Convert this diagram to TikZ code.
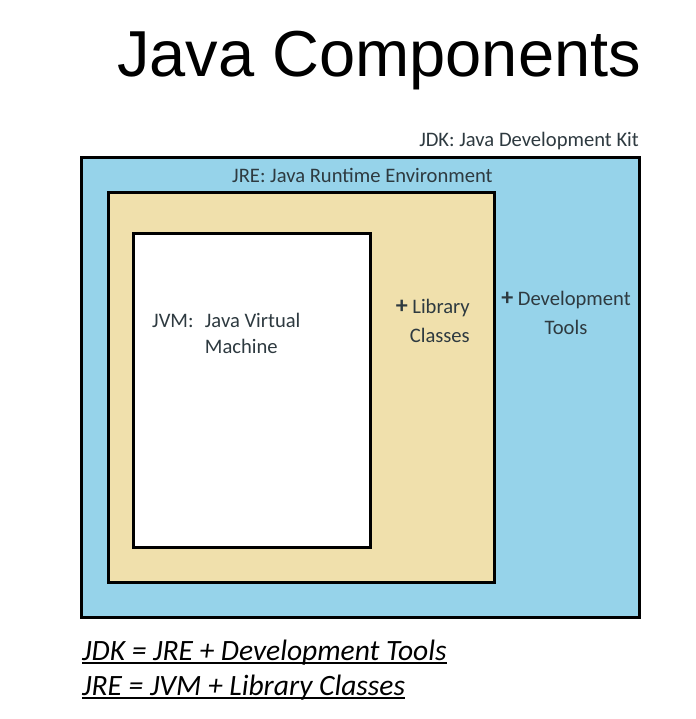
\documentclass[tikz,border=0pt]{standalone}
\usepackage{fontspec}
\setmainfont{Carlito}
\newfontfamily\titlefont{Liberation Sans}
\usetikzlibrary{calc}
\definecolor{jdkblue}{HTML}{96D3EA}
\definecolor{jretan}{HTML}{F0E0AC}
\definecolor{lblgray}{HTML}{2E3A40}
\newcommand\bigplus{{\fontsize{24}{28.5}\selectfont\textbf{+}}}

\begin{document}
\begin{tikzpicture}[x=1pt,y=-1pt,
    box/.style={draw=black,line width=3pt},
    lbl/.style={text=lblgray,inner sep=0pt,font=\fontsize{20.6}{28.5}\selectfont},
    eqn/.style={anchor=base west,inner sep=0pt,font=\fontsize{29.5}{34}\selectfont\itshape}]
    \useasboundingbox (0,0) rectangle (695,719);
    \coordinate (K1) at (81,158);
    \coordinate (K2) at (639,617);
    \coordinate (R1) at (108,193);
    \coordinate (R2) at (494,582);
    \coordinate (V1) at (133,233);
    \coordinate (V2) at (370,547);
    \filldraw[box,fill=jdkblue] (K1) rectangle (K2);
    \filldraw[box,fill=jretan] (R1) rectangle (R2);
    \filldraw[box,fill=white] (V1) rectangle (V2);
    \node[anchor=base west,inner sep=0pt,font=\titlefont\fontsize{65}{80}\selectfont] (title) at (117,77) {Java Components};
    \node[lbl,anchor=base east] (jdk) at (639,147) {JDK: Java Development Kit};
    \node[lbl,anchor=base west] (jre) at (232,183) {JRE: Java Runtime Environment};
    \node[lbl,anchor=base west,font=\fontsize{20.6}{26}\selectfont] (jvm) at (152,327)
        {\begin{tabular}[t]{@{}l@{\hspace{0.55em}}l@{}}JVM: & Java Virtual\\ & Machine\end{tabular}};
    \node[lbl,anchor=base east,align=right] (lib) at (470,342) {\bigplus{} Library\\Classes};
    \node[lbl,anchor=base,align=center] (dev) at (566,334) {\bigplus{} Development\\Tools};
    \node[eqn] (eq1) at (82,660) {JDK = JRE + Development Tools};
    \node[eqn] (eq2) at (82,695) {JRE = JVM + Library Classes};
    \draw[line width=1.3pt] ($(eq1.base west)+(0,3)$) -- ($(eq1.base east)+(0,3)$);
    \draw[line width=1.3pt] ($(eq2.base west)+(0,3)$) -- ($(eq2.base east)+(0,3)$);
\end{tikzpicture}
\end{document}
